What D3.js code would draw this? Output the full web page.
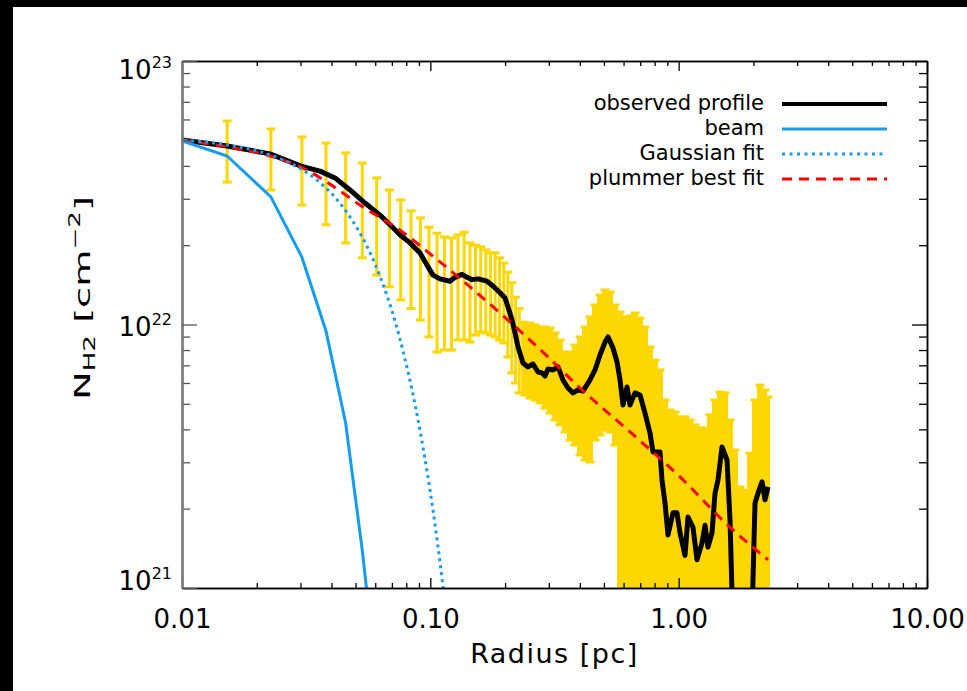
<!DOCTYPE html>
<html>
<head>
<meta charset="utf-8">
<script src="https://cdn.jsdelivr.net/npm/d3@7"></script>
<style>
  body { margin: 0; background: #fff; }
  text { font-family: "DejaVu Sans", sans-serif; fill: #000; }
</style>
</head>
<body>
<div id="chart"></div>
<script>
// radius in pc, column density in units of 1e21 cm^-2
const profR = [0.0100, 0.01518, 0.02262, 0.03015, 0.03595, 0.04132, 0.04748, 0.05457, 0.06271, 0.06882,
  0.07549, 0.08282, 0.09086, 0.09695, 0.1025, 0.1094, 0.1200, 0.1257, 0.1341, 0.1405,
  0.1472, 0.1556, 0.1691, 0.1788, 0.1908, 0.1999, 0.2055, 0.2133, 0.2193, 0.2255,
  0.2361, 0.2473, 0.2591, 0.2714, 0.2816, 0.2896, 0.2977, 0.3119, 0.3266, 0.3421,
  0.3583, 0.3754, 0.3931, 0.4118, 0.4395, 0.4604, 0.4822, 0.5051, 0.5194, 0.5440,
  0.5646, 0.5805, 0.5969, 0.6194, 0.6369, 0.6672, 0.6988, 0.7320, 0.7668, 0.7883,
  0.8413, 0.8568, 0.8812, 0.9058, 0.9488, 0.9847, 1.0125, 1.0606, 1.0905, 1.1420,
  1.1852, 1.2414, 1.2768, 1.3125, 1.3621, 1.4008, 1.4401, 1.4945, 1.5654, 1.6098,
  1.655, 1.96, 2.0296, 2.087, 2.166, 2.2268, 2.2895];
const profN = [50.1, 47.6, 44.4, 39.9, 38.2, 36.0, 32.4, 28.9, 26.0, 23.9,
  21.9, 20.4, 18.7, 16.8, 15.4, 14.9, 14.6, 15.1, 15.5, 15.1,
  14.8, 14.9, 14.6, 14.0, 13.2, 12.6, 11.65, 10.4, 9.29, 8.21,
  7.14, 6.90, 7.08, 6.60, 6.55, 6.38, 6.78, 6.72, 6.90, 6.16,
  5.74, 5.50, 5.64, 5.59, 6.16, 6.72, 7.66, 8.58, 8.97, 8.14,
  7.21, 6.16, 4.95, 5.79, 4.95, 5.50, 5.40, 4.61, 3.87, 3.28,
  3.28, 2.57, 2.10, 1.59, 1.93, 1.93, 1.62, 1.33, 1.86, 1.70,
  1.28, 1.48, 1.73, 1.43, 1.62, 2.29, 2.57, 3.43, 3.06, 1.81,
  0.7, 0.6, 2.10, 2.29, 2.53, 2.16, 2.42];

// error bars, inner part (separate bars)
const errR = [0.0152, 0.0228, 0.0304, 0.0380, 0.0456, 0.0532, 0.0608, 0.0684, 0.0760, 0.0836,
  0.0912, 0.0988, 0.1064, 0.1140, 0.1216, 0.1292, 0.1368, 0.1444, 0.1520, 0.1596,
  0.1672, 0.1748, 0.1824, 0.1900, 0.1976, 0.2052, 0.2128, 0.2204, 0.2280, 0.2356];
const errLo = [34.7, 32.4, 28.4, 23.9, 20.4, 17.9, 15.4, 13.9, 12.4, 11.5,
  10.4, 8.97, 7.86, 8.00, 8.00, 8.73, 8.73, 8.58, 9.12, 9.37,
  9.29, 9.12, 8.97, 8.73, 8.51, 7.53, 6.55, 6.00, 5.50, 5.50];
const errHi = [59.2, 55.2, 51.5, 48.8, 44.8, 41.0, 36.0, 32.4, 29.7, 27.0,
  25.4, 23.4, 22.2, 21.5, 21.3, 21.9, 22.4, 20.4, 20.0, 19.7,
  19.2, 18.7, 18.7, 17.9, 17.1, 15.8, 14.4, 12.7, 11.5, 10.2];

// error bars, outer part (bars so dense they merge)
const bandR = [0.2406, 0.2519, 0.2639, 0.2764, 0.2895, 0.3033, 0.3177, 0.3328, 0.3486, 0.3651,
  0.3824, 0.4006, 0.4196, 0.4395, 0.4604, 0.4822, 0.5051, 0.5291, 0.5542, 0.5805,
  0.6081, 0.6369, 0.6672, 0.6988, 0.7320, 0.7668, 0.8032, 0.8413, 0.8812, 0.9231,
  0.9669, 1.0125, 1.0606, 1.1110, 1.1637, 1.2189, 1.2768, 1.3373, 1.4008, 1.4673,
  1.5369, 1.6098, 1.6862, 1.7662, 1.8500, 1.9377, 2.0296, 2.1259, 2.2268, 2.2895];
const bandLo = [5.40, 5.26, 5.17, 5.04, 4.82, 4.61, 4.34, 4.16, 3.91, 3.64,
  3.49, 3.20, 3.06, 3.01, 3.64, 3.81, 3.98, 3.91, 3.49, 0.5,
  0.5, 0.5, 0.5, 0.5, 0.5, 0.5, 0.5, 0.5, 0.5, 0.5,
  0.5, 0.5, 0.5, 0.5, 0.5, 0.5, 0.5, 0.5, 0.5, 0.5,
  0.5, 0.5, 0.5, 0.5, 0.5, 0.5, 0.5, 0.5, 0.5, 0.5];
const bandHi = [10.13, 10.13, 9.96, 9.78, 9.78, 9.70, 9.29, 8.73, 7.86, 7.86,
  8.36, 8.97, 9.78, 10.68, 11.86, 12.94, 13.52, 13.28, 11.86, 11.15,
  10.68, 10.77, 11.06, 10.59, 9.78, 8.21, 7.33, 6.72, 5.17, 4.74,
  4.66, 4.46, 4.46, 4.34, 4.16, 4.05, 4.05, 4.54, 5.17, 5.54,
  5.50, 4.34, 3.34, 2.42, 2.35, 3.25, 5.17, 5.89, 5.64, 5.31];

const beamR = [0.0076, 0.0152, 0.0228, 0.0304, 0.0380, 0.0456, 0.0532, 0.0608];
const beamN = [54.3, 43.6, 30.5, 18.0, 9.45, 4.23, 1.39, 0.45];

const gaussR = [0.005, 0.010, 0.015, 0.020, 0.025, 0.030, 0.035, 0.040, 0.045, 0.050,
  0.055, 0.060, 0.065, 0.070, 0.075, 0.080, 0.085, 0.090, 0.095, 0.100,
  0.105, 0.110, 0.115, 0.120];
const gaussN = [51.2, 50.1, 48.1, 45.6, 42.5, 39.0, 35.3, 31.4, 27.5, 23.7,
  20.2, 16.9, 13.9, 11.3, 8.99, 7.06, 5.47, 4.16, 3.12, 2.31,
  1.68, 1.20, 0.846, 0.587];

const plumR = [0.0100, 0.01518, 0.02262, 0.03015, 0.03944, 0.05210, 0.07549, 0.1044, 0.1418, 0.1908,
  0.2977, 0.4006, 0.6369, 1.0125, 1.6098, 2.2895];
const plumN = [50.1, 47.2, 43.6, 39.6, 34.1, 28.4, 22.8, 17.9, 14.1, 11.06,
  7.53, 5.74, 3.91, 2.64, 1.70, 1.28];

const xTicks = [0.01, 0.1, 1, 10];
const xTickLabels = ["0.01", "0.10", "1.00", "10.00"];
const yTicks = [1, 10, 100];
const yTickExp = ["21", "22", "23"];
const legendLabels = ["observed profile", "beam", "Gaussian fit", "plummer best fit"];

const width = 967, height = 691;
const plotLeft = 182, plotRight = 927, plotTop = 61, plotBottom = 588;
const yellow = "#ffd700", blue = "#169cef";

const svg = d3.select("#chart").append("svg")
    .attr("width", width)
    .attr("height", height);

svg.append("rect").attr("width", width).attr("height", height).attr("fill", "#fff");
// black border of the scanned page
svg.append("rect").attr("x", 0).attr("y", 0).attr("width", 13).attr("height", height).attr("fill", "#000");
svg.append("rect").attr("x", 0).attr("y", 0).attr("width", width).attr("height", 7).attr("fill", "#000");

const x = d3.scaleLog().domain([0.01, 10]).range([plotLeft, plotRight]);
const y = d3.scaleLog().domain([1, 100]).range([plotBottom, plotTop]);

svg.append("clipPath").attr("id", "plot-clip")
  .append("rect")
    .attr("x", plotLeft).attr("y", plotTop)
    .attr("width", plotRight - plotLeft).attr("height", plotBottom - plotTop);

const plot = svg.append("g").attr("clip-path", "url(#plot-clip)");

// error bars, separate
const errData = errR.map((r, i) => ({ r, lo: errLo[i], hi: errHi[i] }));
plot.selectAll(".err-bar")
    .data(errData)
    .enter()
    .append("line")
    .attr("class", "err-bar")
    .attr("x1", d => x(d.r)).attr("x2", d => x(d.r))
    .attr("y1", d => y(d.hi)).attr("y2", d => y(d.lo))
    .attr("stroke", yellow)
    .attr("stroke-width", 3);

plot.selectAll(".err-cap")
    .data(errData.flatMap(d => [{ r: d.r, v: d.hi }, { r: d.r, v: d.lo }]))
    .enter()
    .append("line")
    .attr("class", "err-cap")
    .attr("x1", d => x(d.r) - 4.5).attr("x2", d => x(d.r) + 4.5)
    .attr("y1", d => y(d.v)).attr("y2", d => y(d.v))
    .attr("stroke", yellow)
    .attr("stroke-width", 3);

// error bars, merged
const bandData = bandR.map((r, i) => {
    const xc = x(r);
    const xp = i > 0 ? (x(bandR[i - 1]) + xc) / 2 : xc - 2;
    const xn = i < bandR.length - 1 ? (x(bandR[i + 1]) + xc) / 2 : xc + 1.5;
    return { r, lo: bandLo[i], hi: bandHi[i], x0: xp - 0.5, x1: xn + 0.5 };
});
plot.selectAll(".band-bar")
    .data(bandData)
    .enter()
    .append("rect")
    .attr("class", "band-bar")
    .attr("x", d => d.x0)
    .attr("width", d => d.x1 - d.x0)
    .attr("y", d => y(d.hi))
    .attr("height", d => y(d.lo) - y(d.hi))
    .attr("fill", yellow);

plot.selectAll(".band-cap")
    .data(bandData.flatMap(d => [{ r: d.r, v: d.hi }, { r: d.r, v: d.lo }]))
    .enter()
    .append("rect")
    .attr("class", "band-cap")
    .attr("x", d => x(d.r) - 4.5)
    .attr("width", 9)
    .attr("y", d => y(d.v) - 1.5)
    .attr("height", 3)
    .attr("fill", yellow);

const line = d3.line().x(d => x(d[0])).y(d => y(d[1]));
const smooth = d3.line().x(d => x(d[0])).y(d => y(d[1])).curve(d3.curveMonotoneX);

plot.append("path")
    .datum(profR.map((r, i) => [r, profN[i]]))
    .attr("d", line)
    .attr("fill", "none")
    .attr("stroke", "#000")
    .attr("stroke-width", 5)
    .attr("stroke-linejoin", "round");

plot.append("path")
    .datum(plumR.map((r, i) => [r, plumN[i]]))
    .attr("d", smooth)
    .attr("fill", "none")
    .attr("stroke", "#ff0000")
    .attr("stroke-width", 3)
    .attr("stroke-dasharray", "10,7");

plot.append("path")
    .datum(gaussR.map((r, i) => [r, gaussN[i]]))
    .attr("d", smooth)
    .attr("fill", "none")
    .attr("stroke", blue)
    .attr("stroke-width", 3)
    .attr("stroke-dasharray", "3,4");

plot.append("path")
    .datum(beamR.map((r, i) => [r, beamN[i]]))
    .attr("d", line)
    .attr("fill", "none")
    .attr("stroke", blue)
    .attr("stroke-width", 3);

// axes
const xMinor = [0.01, 0.1, 1].flatMap(d => d3.range(2, 10).map(k => k * d));
const yMinor = [1, 10].flatMap(d => d3.range(2, 10).map(k => k * d));

svg.append("g")
    .attr("transform", `translate(0,${plotBottom})`)
    .call(d3.axisBottom(x).tickValues(xMinor).tickSize(-5).tickSizeOuter(0).tickFormat(""));
svg.append("g")
    .attr("class", "x-major")
    .attr("transform", `translate(0,${plotBottom})`)
    .call(d3.axisBottom(x).tickValues(xTicks).tickSize(-10).tickSizeOuter(0).tickPadding(22)
        .tickFormat((d, i) => xTickLabels[i]));
svg.append("g")
    .attr("transform", `translate(0,${plotTop})`)
    .call(d3.axisTop(x).tickValues(xMinor).tickSize(-5).tickSizeOuter(0).tickFormat(""));
svg.append("g")
    .attr("transform", `translate(0,${plotTop})`)
    .call(d3.axisTop(x).tickValues(xTicks).tickSize(-10).tickSizeOuter(0).tickFormat(""));
svg.append("g")
    .attr("transform", `translate(${plotRight},0)`)
    .call(d3.axisRight(y).tickValues(yMinor).tickSize(-8).tickSizeOuter(0).tickFormat(""));
svg.append("g")
    .attr("transform", `translate(${plotRight},0)`)
    .call(d3.axisRight(y).tickValues(yTicks).tickSize(-15).tickSizeOuter(0).tickFormat(""));
svg.append("g")
    .attr("class", "y-left")
    .attr("transform", `translate(${plotLeft},0)`)
    .call(d3.axisLeft(y).tickValues(yMinor).tickSize(-8).tickSizeOuter(0).tickFormat(""));
svg.append("g")
    .attr("class", "y-left")
    .attr("transform", `translate(${plotLeft},0)`)
    .call(d3.axisLeft(y).tickValues(yTicks).tickSize(-15).tickSizeOuter(0).tickFormat(""));

svg.selectAll(".domain").attr("stroke", "#000").attr("stroke-width", 1.5);
svg.selectAll(".tick line").attr("stroke", "#000").attr("stroke-width", 1.3);
svg.selectAll(".y-left .domain").attr("stroke", "#7a7a7a").attr("stroke-width", 2.2);
svg.selectAll(".y-left .tick line").attr("stroke", "#555");
svg.selectAll(".x-major text")
    .attr("font-family", "DejaVu Sans")
    .attr("font-size", 26)
    .attr("fill", "#000");

// y tick labels as powers of ten
const yLab = svg.append("g")
    .selectAll("text")
    .data(yTicks)
    .enter()
    .append("text")
    .attr("x", 172)
    .attr("y", (d, i) => y(d) + [2, 11, 18][i])
    .attr("text-anchor", "end")
    .attr("font-size", 26);
yLab.append("tspan").text("10");
yLab.append("tspan")
    .attr("dy", -11)
    .attr("font-size", 16)
    .text((d, i) => yTickExp[i]);

// axis titles
svg.append("text")
    .attr("x", (plotLeft + plotRight) / 2)
    .attr("y", 663)
    .attr("text-anchor", "middle")
    .attr("font-size", 27)
    .attr("letter-spacing", 1.5)
    .text("Radius [pc]");

const yTitle = svg.append("text")
    .attr("transform", "translate(90,298) rotate(-90)")
    .attr("x", -102)
    .attr("font-size", 22)
    .attr("textLength", 204)
    .attr("lengthAdjust", "spacingAndGlyphs");
yTitle.append("tspan").text("N");
yTitle.append("tspan").attr("dy", 5).attr("font-size", 15).text("H2");
yTitle.append("tspan").attr("dy", -5).text(" [cm");
yTitle.append("tspan").attr("dy", -10).attr("font-size", 15).text("\u22122");
yTitle.append("tspan").attr("dy", 10).text("]");

// legend
const legendStyles = [
    { stroke: "#000", w: 4, dash: null },
    { stroke: blue, w: 3, dash: null },
    { stroke: blue, w: 3, dash: "3,4.5" },
    { stroke: "#ff0000", w: 3, dash: "10,7" }
];
const legend = svg.append("g")
    .selectAll("g")
    .data(legendLabels)
    .enter()
    .append("g")
    .attr("transform", (d, i) => `translate(0,${104 + i * 25})`);
legend.append("text")
    .attr("x", 764)
    .attr("y", 6)
    .attr("text-anchor", "end")
    .attr("font-size", 21)
    .text(d => d);
legend.append("line")
    .attr("x1", 782).attr("x2", 887)
    .attr("y1", 0).attr("y2", 0)
    .attr("stroke", (d, i) => legendStyles[i].stroke)
    .attr("stroke-width", (d, i) => legendStyles[i].w)
    .attr("stroke-dasharray", (d, i) => legendStyles[i].dash);
</script>
</body>
</html>
